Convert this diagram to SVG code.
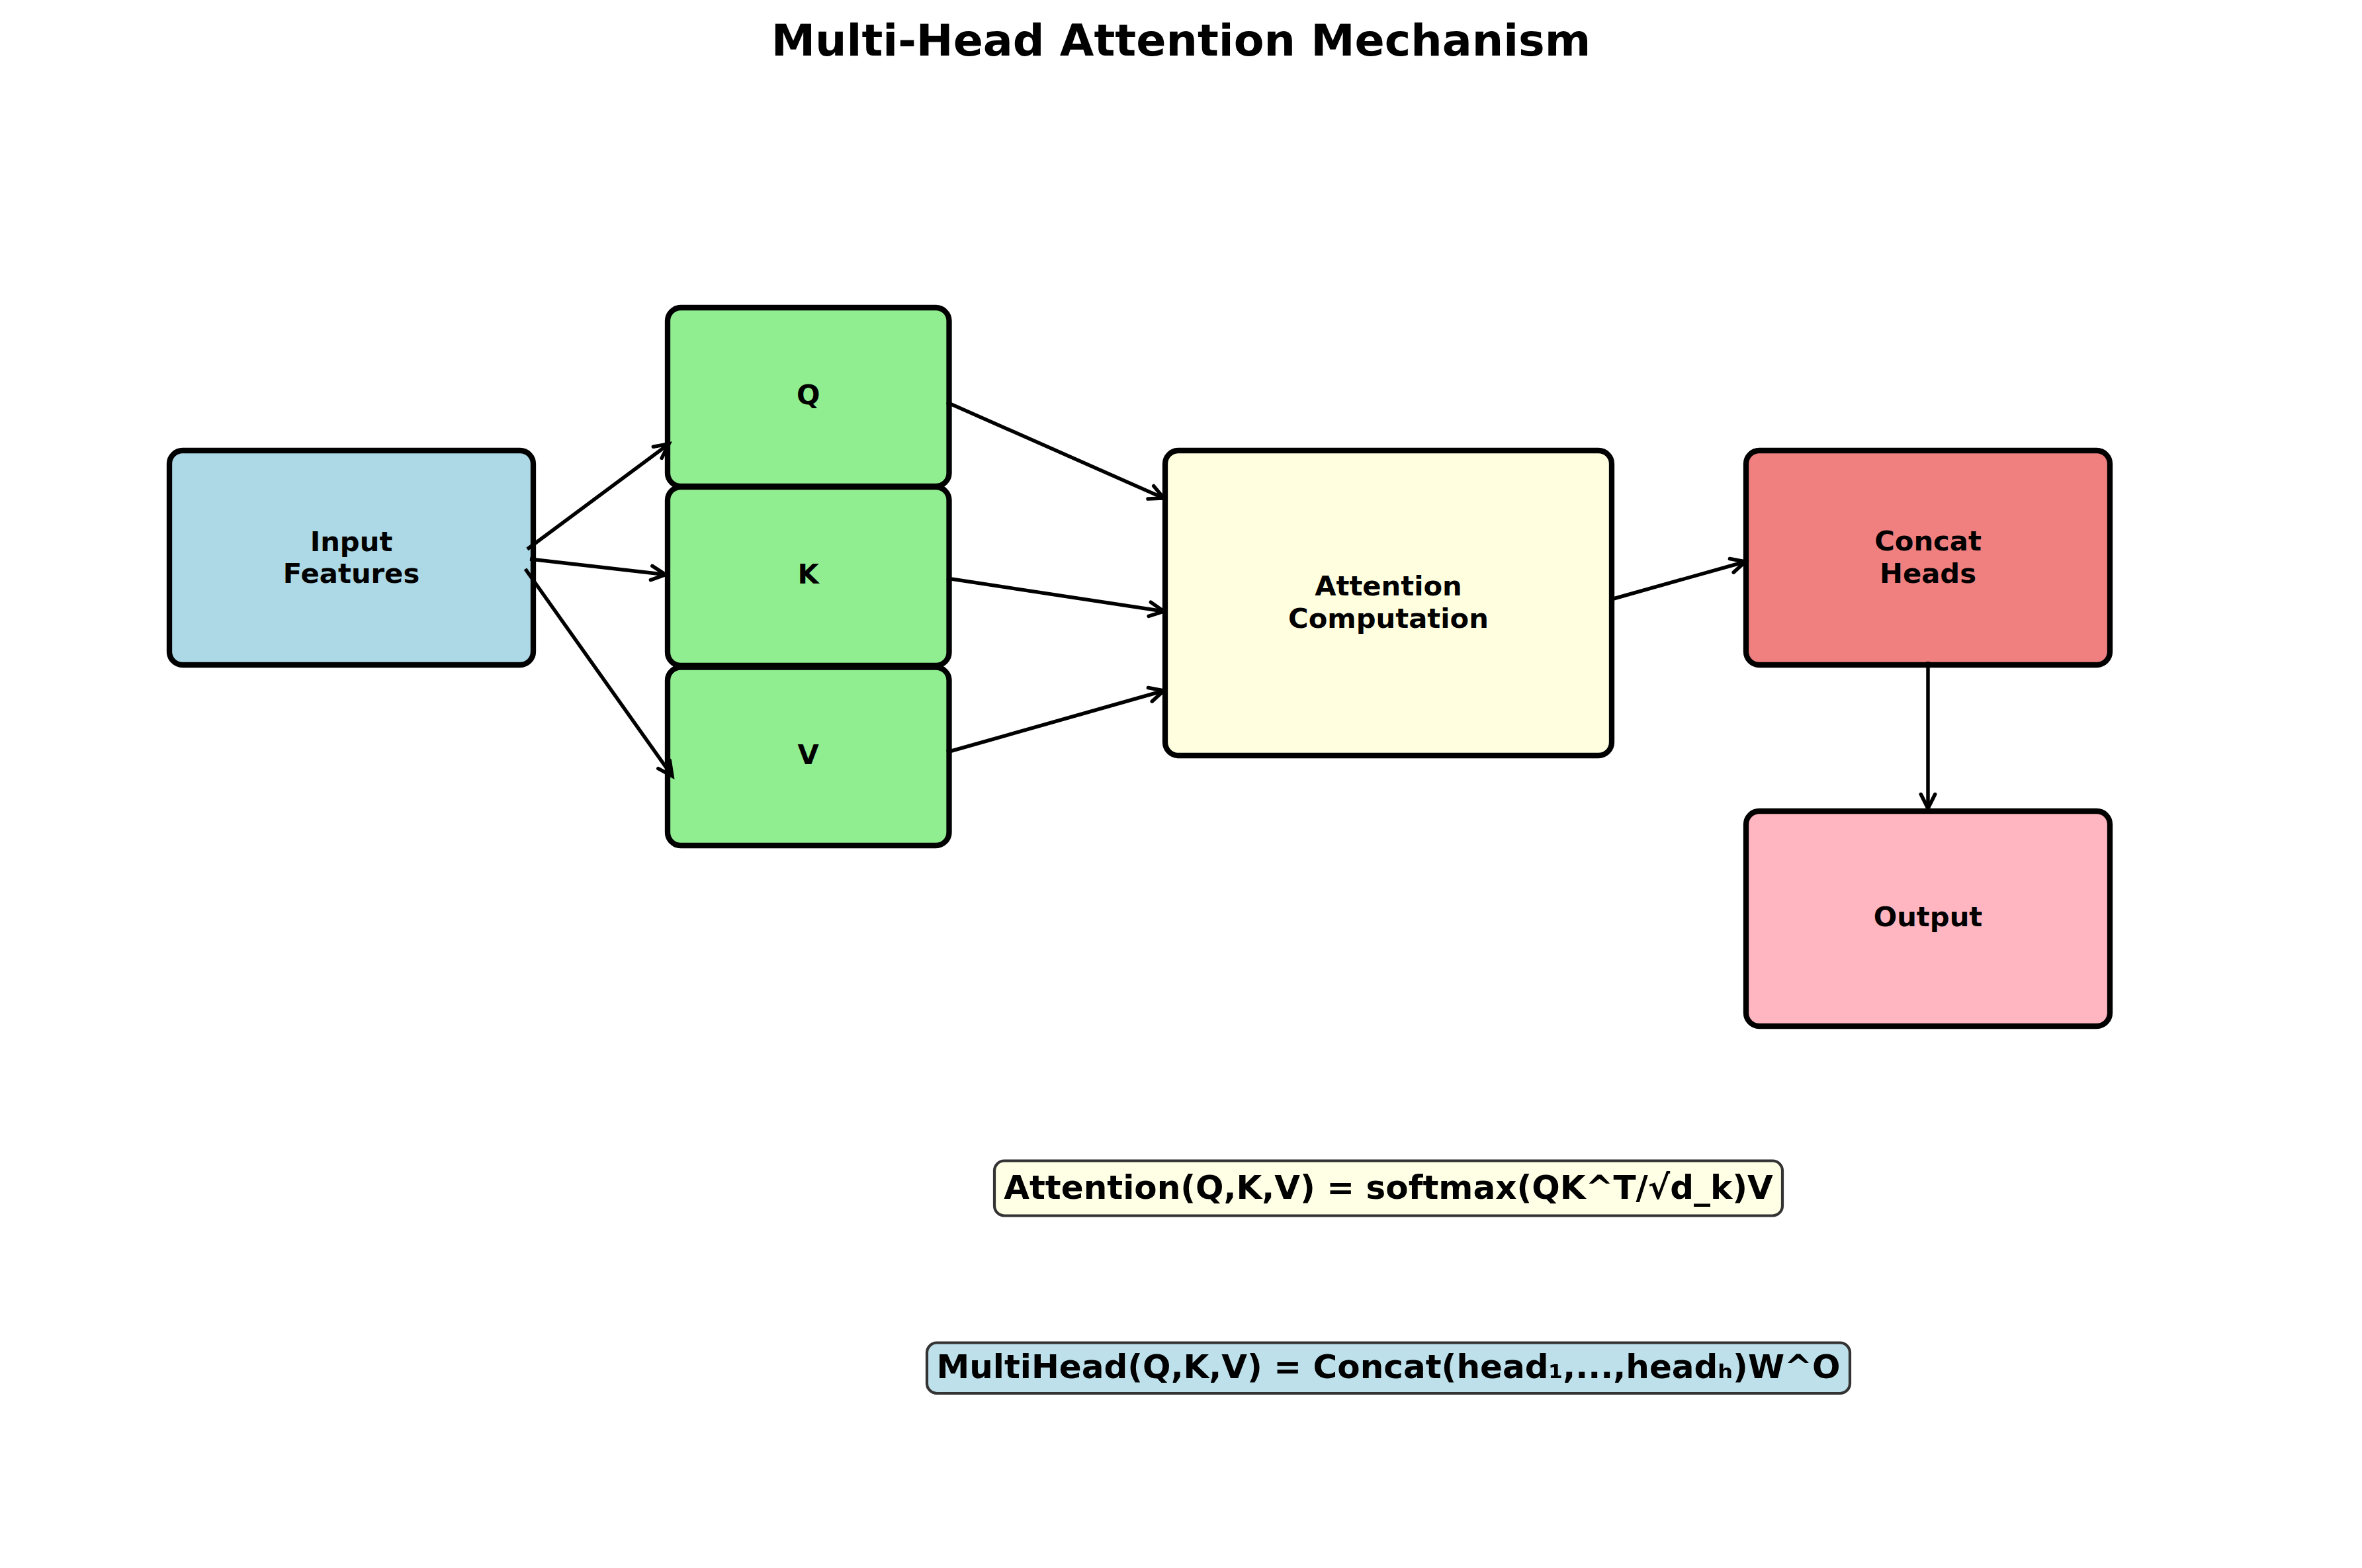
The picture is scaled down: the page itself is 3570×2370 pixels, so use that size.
<svg xmlns="http://www.w3.org/2000/svg" width="3570" height="2370" viewBox="0 0 3570 2370">
  <style>
    .node { stroke: #000000; stroke-width: 8.3; }
    .lbl { font-family: "DejaVu Sans", "Liberation Sans", sans-serif; font-weight: bold; font-size: 41.7px; fill: #000000; text-anchor: middle; }
    .title { font-family: "DejaVu Sans", "Liberation Sans", sans-serif; font-weight: bold; font-size: 66.7px; fill: #000000; text-anchor: middle; }
    .fbox { stroke: #333333; stroke-width: 4.2; }
    .ftxt { font-family: "DejaVu Sans", "Liberation Sans", sans-serif; font-weight: bold; font-size: 50px; fill: #000000; text-anchor: middle; }
    .conn line { stroke: #000000; stroke-width: 5.5; fill: none; marker-end: url(#head); }
  </style>
  <defs>
    <marker id="head" markerUnits="userSpaceOnUse" orient="auto" viewBox="-30 -20 40 40" markerWidth="40" markerHeight="40" refX="0" refY="0" overflow="visible">
      <path d="M-21.5,-10.7 L0,0 L-21.5,10.7" fill="none" stroke="#000000" stroke-width="5.5" stroke-linejoin="miter" stroke-linecap="round"/>
    </marker>
  </defs>
  <rect x="0" y="0" width="3570" height="2370" fill="#ffffff"/>

  <text id="title" class="title" x="1785" y="84">Multi-Head Attention Mechanism</text>

  <g id="node-input">
    <rect class="node" x="256" y="681" width="550" height="324" rx="20" ry="20" fill="#ADD8E6"/>
    <text class="lbl" x="531" y="833">Input</text>
    <text class="lbl" x="531" y="881">Features</text>
  </g>
  <g id="node-q">
    <rect class="node" x="1009" y="465" width="425.5" height="270" rx="20" ry="20" fill="#90EE90"/>
    <text class="lbl" x="1221.75" y="611">Q</text>
  </g>
  <g id="node-k">
    <rect class="node" x="1009" y="736" width="425.5" height="270" rx="20" ry="20" fill="#90EE90"/>
    <text class="lbl" x="1221.75" y="882">K</text>
  </g>
  <g id="node-v">
    <rect class="node" x="1009" y="1008.5" width="425.5" height="269.5" rx="20" ry="20" fill="#90EE90"/>
    <text class="lbl" x="1221.75" y="1154.5">V</text>
  </g>
  <g id="node-attention">
    <rect class="node" x="1761" y="681" width="675" height="461" rx="20" ry="20" fill="#FFFFE0"/>
    <text class="lbl" x="2098.5" y="900">Attention</text>
    <text class="lbl" x="2098.5" y="949">Computation</text>
  </g>
  <g id="node-concat">
    <rect class="node" x="2639" y="681" width="550" height="324" rx="20" ry="20" fill="#F08080"/>
    <text class="lbl" x="2914" y="832">Concat</text>
    <text class="lbl" x="2914" y="880.5">Heads</text>
  </g>
  <g id="node-output">
    <rect class="node" x="2639" y="1226" width="550" height="325" rx="20" ry="20" fill="#FFB6C1"/>
    <text class="lbl" x="2914" y="1400">Output</text>
  </g>

  <g id="connectors" class="conn">
    <line x1="797" y1="830" x2="1011" y2="671"/>
    <line x1="801" y1="845" x2="1006" y2="868.5"/>
    <line x1="794" y1="860" x2="1016" y2="1173"/>
    <line x1="1431" y1="608" x2="1759" y2="753"/>
    <line x1="1431" y1="874" x2="1759" y2="924"/>
    <line x1="1431" y1="1137" x2="1759" y2="1044"/>
    <line x1="2435" y1="906" x2="2638" y2="849"/>
    <line x1="2914" y1="1000" x2="2914" y2="1222"/>
  </g>

  <g id="formula-attention">
    <rect class="fbox" x="1503" y="1754.5" width="1191" height="83" rx="15" ry="15" fill="#FFFFE6"/>
    <text class="ftxt" x="2098.5" y="1812">Attention(Q,K,V) = softmax(QK^T/√d_k)V</text>
  </g>
  <g id="formula-multihead">
    <rect class="fbox" x="1401" y="2029.5" width="1395" height="76.5" rx="15" ry="15" fill="#BDE0EB"/>
    <text class="ftxt" x="2098.5" y="2083">MultiHead(Q,K,V) = Concat(head₁,...,headₕ)W^O</text>
  </g>
</svg>
